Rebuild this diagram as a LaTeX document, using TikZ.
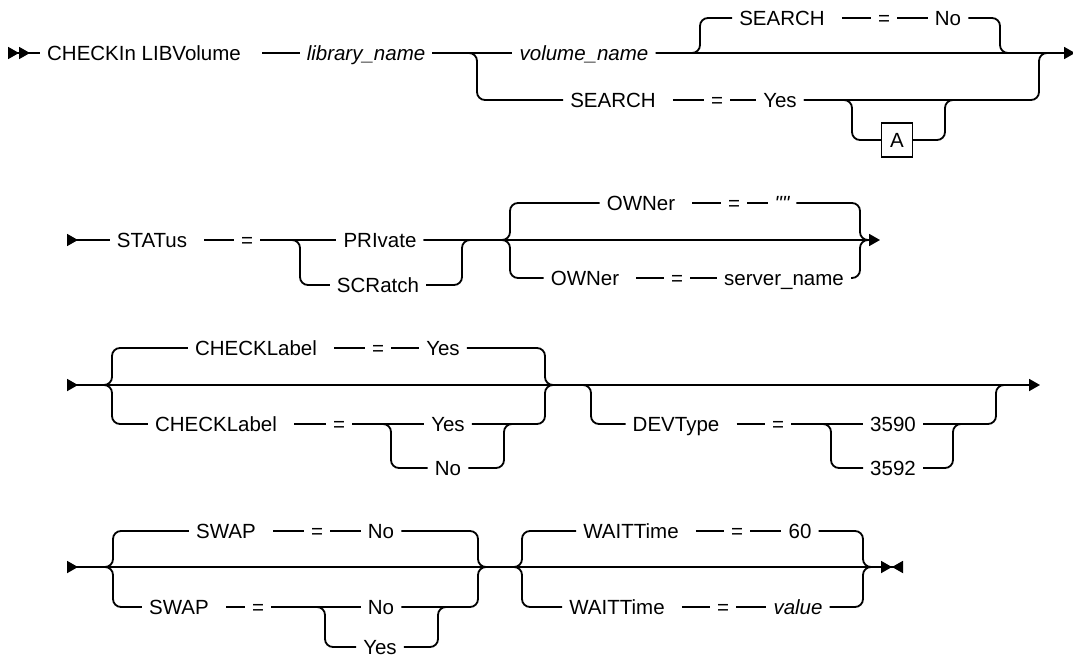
\documentclass[tikz,border=0pt]{standalone}
\usepackage{fontspec}
\newfontfamily\synfont{Liberation Sans}
\usepackage{tikz}
\usetikzlibrary{arrows.meta}
\usetikzlibrary{positioning}

\tikzset{
    inTip/.tip={Triangle[length=11pt,width=12pt,reversed]},
    outTip/.tip={Triangle[length=11pt,width=12pt]}
}

\begin{document}
\begin{tikzpicture}[
    x=1pt, y=-1pt,
    kw/.style={
        inner xsep=7pt, inner ysep=0pt,
        text height=15pt, text depth=0pt,
        font=\synfont\fontsize{20.5}{24}\selectfont
    },
    var/.style={kw, font=\synfont\fontsize{20.5}{24}\selectfont\itshape},
    refBox/.style={
        draw, line width=1.4pt,
        minimum width=31pt, minimum height=34pt, inner sep=0pt,
        font=\synfont\fontsize{20.5}{24}\selectfont
    },
    track/.style={line width=1.8pt, rounded corners=8pt},
    afterKey/.style={shorten <=10pt}
]
\useasboundingbox (0,0) rectangle (1073,658);

% row 1
\coordinate (start1) at (8,53);
\coordinate (end1) at (1075,53);
\coordinate (c1a) at (477,0);
\coordinate (c1b) at (700,0);
\coordinate (c1c) at (1000,0);
\coordinate (c1d) at (852,0);
\coordinate (c1e) at (945,0);
\coordinate (c1f) at (1039,0);
\node[kw] (cmd) at (144,53) {CHECKIn LIBVolume};
\node[var] (lib) at (366,53) {library\_name};
\node[var] (vol) at (584,53) {volume\_name};
\node[kw] (srchT) at (782,18) {SEARCH};
\node[kw] (eqT) at (884,18) {=};
\node[kw] (noT) at (948,18) {No};
\node[kw] (srchL) at (613,100) {SEARCH};
\node[kw] (eqL) at (717,100) {=};
\node[kw] (yesL) at (780,100) {Yes};
\node[refBox] (refA) at (897,140) {A};
\draw[track, {inTip[] inTip[]}-] (start1) -- (cmd.west);
\draw[track, shorten <=14pt] (cmd.east) -- (lib.west);
\draw[track] (lib.east) -- (vol.west);
\draw[track, -outTip] (vol.east) -- (end1);
\draw[track] (lib.east) -| (c1a |- srchL.west) -- (srchL.west);
\draw[track, afterKey] (srchL.east) -- (eqL.west);
\draw[track] (eqL.east) -- (yesL.west);
\draw[track] (yesL.east) -| (c1f |- end1) -- ++(10,0);
\draw[track] (yesL.east) -| (c1d |- refA.west) -- (refA.west);
\draw[track] (refA.east) -| (c1e |- yesL.east) -- ++(10,0);
\draw[track] (vol.east) -| (c1b |- srchT.west) -- (srchT.west);
\draw[track, afterKey] (srchT.east) -- (eqT.west);
\draw[track] (eqT.east) -- (noT.west);
\draw[track] (noT.east) -| (c1c |- end1) -- ++(10,0);

% row 2
\coordinate (start2) at (67,240);
\coordinate (end2) at (880,240);
\coordinate (c2a) at (300,0);
\coordinate (c2b) at (462,0);
\coordinate (c2c) at (510,0);
\coordinate (c2d) at (860,0);
\node[kw] (stat) at (152,240) {STATus};
\node[kw] (eqS) at (247,240) {=};
\node[kw] (priv) at (380,240) {PRIvate};
\node[kw] (scr) at (378,285) {SCRatch};
\node[kw] (ownT) at (641,203) {OWNer};
\node[kw] (eqOT) at (734,203) {=};
\node[var] (quot) at (782,203) {""};
\node[kw] (ownB) at (585,278) {OWNer};
\node[kw] (eqOB) at (677,278) {=};
\node[kw] (srv) at (784,278) {server\_name};
\draw[track, {inTip[]}-] (start2) -- (stat.west);
\draw[track, afterKey] (stat.east) -- (eqS.west);
\draw[track] (eqS.east) -- (priv.west);
\draw[track] (eqS.east) -| (c2a |- scr.west) -- (scr.west);
\draw[track] (scr.east) -| (c2b |- end2) -- ++(10,0);
\draw[track, -outTip] (priv.east) -- (end2);
\draw[track] (priv.east) -| (c2c |- ownT.west) -- (ownT.west);
\draw[track] (priv.east) -| (c2c |- ownB.west) -- (ownB.west);
\draw[track, afterKey] (ownT.east) -- (eqOT.west);
\draw[track] (eqOT.east) -- (quot.west);
\draw[track] (quot.east) -| (c2d |- end2) -- ++(10,0);
\draw[track, afterKey] (ownB.east) -- (eqOB.west);
\draw[track] (eqOB.east) -- (srv.west);
\draw[track] (srv.east) -| (c2d |- end2) -- ++(10,0);

% row 3
\coordinate (start3) at (67,385);
\coordinate (end3) at (1040,385);
\coordinate (devFork) at (591,385);
\coordinate (c3a) at (112,0);
\coordinate (c3b) at (391,0);
\coordinate (c3c) at (504,0);
\coordinate (c3d) at (545,0);
\coordinate (c3e) at (831,0);
\coordinate (c3f) at (953,0);
\coordinate (c3g) at (996,0);
\node[kw] (chkT) at (256,348) {CHECKLabel};
\node[kw] (eqCT) at (378,348) {=};
\node[kw] (yesCT) at (443,348) {Yes};
\node[kw] (chkB) at (216,424) {CHECKLabel};
\node[kw] (eqCB) at (339,424) {=};
\node[kw] (yesCB) at (448,424) {Yes};
\node[kw] (noCB) at (448,468) {No};
\node[kw] (dev) at (676,424) {DEVType};
\node[kw] (eqD) at (778,424) {=};
\node[kw] (n3590) at (893,424) {3590};
\node[kw] (n3592) at (893,468) {3592};
\draw[track, {inTip[]}-{outTip[]}] (start3) -- (end3);
\draw[track] (start3) -| (c3a |- chkT.west) -- (chkT.west);
\draw[track] (start3) -| (c3a |- chkB.west) -- (chkB.west);
\draw[track, afterKey] (chkT.east) -- (eqCT.west);
\draw[track] (eqCT.east) -- (yesCT.west);
\draw[track] (yesCT.east) -| (c3d |- end3) -- ++(10,0);
\draw[track, afterKey] (chkB.east) -- (eqCB.west);
\draw[track] (eqCB.east) -- (yesCB.west);
\draw[track] (eqCB.east) -| (c3b |- noCB.west) -- (noCB.west);
\draw[track] (noCB.east) -| (c3c |- yesCB.east) -- ++(10,0);
\draw[track] (yesCB.east) -| (c3d |- end3) -- ++(10,0);
\draw[track] (devFork) ++(-10,0) -- (devFork) |- (dev.west);
\draw[track, afterKey] (dev.east) -- (eqD.west);
\draw[track] (eqD.east) -- (n3590.west);
\draw[track] (eqD.east) -| (c3e |- n3592.west) -- (n3592.west);
\draw[track] (n3592.east) -| (c3f |- n3590.east) -- ++(10,0);
\draw[track] (n3590.east) -| (c3g |- end3) -- ++(10,0);

% row 4
\coordinate (start4) at (67,567);
\coordinate (end4) at (903,567);
\coordinate (waitFork) at (522,567);
\coordinate (c4a) at (113,0);
\coordinate (c4b) at (325,0);
\coordinate (c4c) at (438,0);
\coordinate (c4d) at (478,0);
\coordinate (c4e) at (863,0);
\node[kw] (swT) at (226,531) {SWAP};
\node[kw] (eqWT) at (317,531) {=};
\node[kw] (noWT) at (381,531) {No};
\node[kw] (swB) at (179,607) {SWAP};
\node[kw] (eqWB) at (258,607) {=};
\node[kw] (noWB) at (381,607) {No};
\node[kw] (yesWB) at (380,647) {Yes};
\node[kw] (wtT) at (631,531) {WAITTime};
\node[kw] (eqTT) at (737,531) {=};
\node[kw] (sixty) at (800,531) {60};
\node[kw] (wtB) at (617,607) {WAITTime};
\node[kw] (eqTB) at (723,607) {=};
\node[var] (val) at (798,607) {value};
\draw[track, {inTip[]}-{outTip[] inTip[]}] (start4) -- (end4);
\draw[track] (start4) -| (c4a |- swT.west) -- (swT.west);
\draw[track] (start4) -| (c4a |- swB.west) -- (swB.west);
\draw[track, afterKey] (swT.east) -- (eqWT.west);
\draw[track] (eqWT.east) -- (noWT.west);
\draw[track] (noWT.east) -| (c4d |- end4) -- ++(10,0);
\draw[track, afterKey] (swB.east) -- (eqWB.west);
\draw[track] (eqWB.east) -- (noWB.west);
\draw[track] (eqWB.east) -| (c4b |- yesWB.west) -- (yesWB.west);
\draw[track] (yesWB.east) -| (c4c |- noWB.east) -- ++(10,0);
\draw[track] (noWB.east) -| (c4d |- end4) -- ++(10,0);
\draw[track] (waitFork) ++(-10,0) -- (waitFork) |- (wtT.west);
\draw[track] (waitFork) ++(-10,0) -- (waitFork) |- (wtB.west);
\draw[track, afterKey] (wtT.east) -- (eqTT.west);
\draw[track] (eqTT.east) -- (sixty.west);
\draw[track] (sixty.east) -| (c4e |- end4) -- ++(10,0);
\draw[track, afterKey] (wtB.east) -- (eqTB.west);
\draw[track] (eqTB.east) -- (val.west);
\draw[track] (val.east) -| (c4e |- end4) -- ++(10,0);
\end{tikzpicture}
\end{document}
